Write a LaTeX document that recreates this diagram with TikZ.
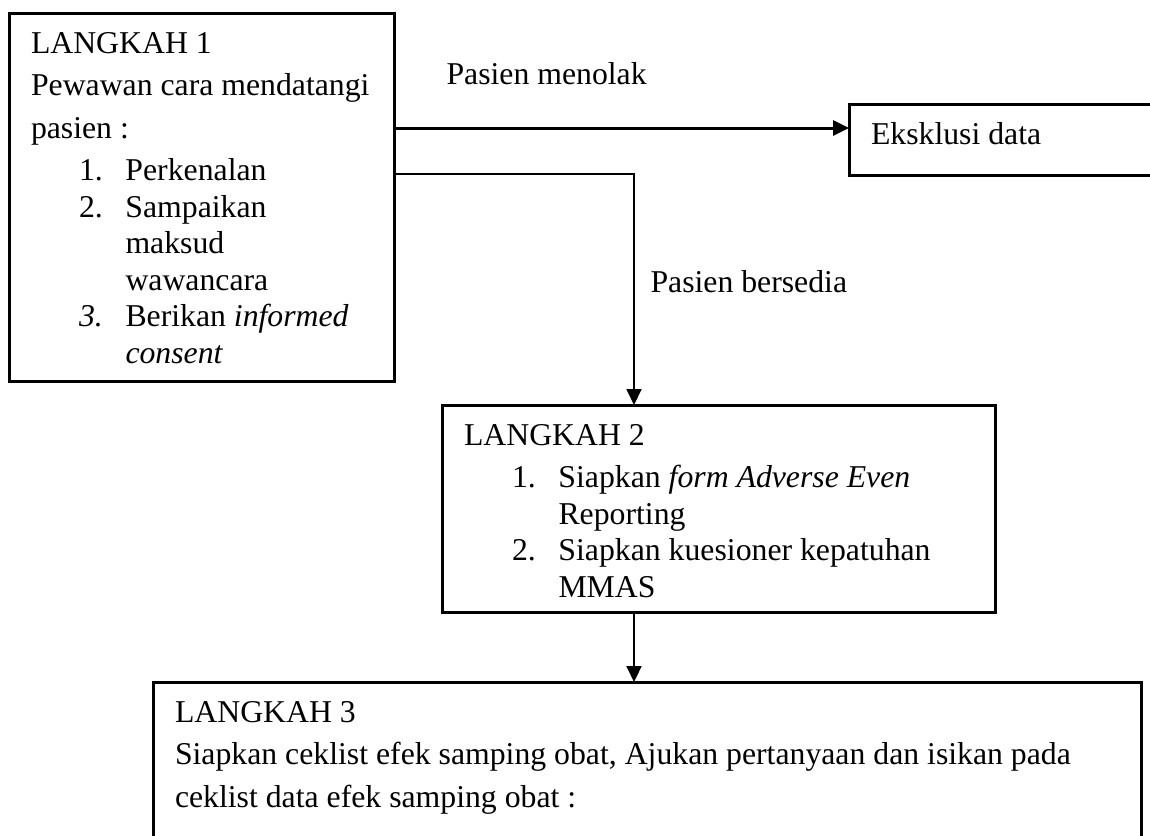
\documentclass[tikz,border=0pt]{standalone}
\usepackage{fontspec}
\setmainfont{Liberation Serif}
\usepackage{tikz}
\usetikzlibrary{arrows.meta}
\usetikzlibrary{positioning}

\newcommand{\stepnum}[1]{\hspace*{19.2pt}\makebox[18.6pt][l]{#1}}
\newcommand{\boxtext}[3]{\parbox[c][#2][t]{#1}{\raggedright\leftskip=8.8pt\rule{0pt}{16pt}#3}}

\begin{document}
\begin{tikzpicture}[
  x=0.4pt, y=-0.4pt,
  every node/.style={font=\fontsize{12.7}{14.6}\selectfont},
  stepbox/.style={draw, line width=1.2pt, inner sep=0pt, outer sep=0pt, anchor=north west},
  branchlabel/.style={inner sep=0pt, anchor=base west},
  tip/.style={-{Triangle[length=6.4pt, width=6pt]}}
]
\useasboundingbox (0,0) rectangle (1150,835);

\node[stepbox] (step1) at (9,13) {\boxtext{154pt}{147.2pt}{LANGKAH 1\\[2.4pt]
  Pewawan cara mendatangi\\[2.4pt]
  pasien :\\[2.4pt]
  \stepnum{1.}Perkenalan\\
  \stepnum{2.}Sampaikan\\
  \stepnum{}maksud\\
  \stepnum{}wawancara\\
  \stepnum{\textit{3.}}Berikan \textit{informed}\\
  \stepnum{}\textit{consent}}};
\node[stepbox] (exclude) at (849,104) {\boxtext{140.4pt}{28.4pt}{Eksklusi data}};
\node[stepbox] (step2) at (442,405) {\boxtext{221.2pt}{82.8pt}{LANGKAH 2\\[2.4pt]
  \stepnum{1.}Siapkan \textit{form Adverse Even}\\
  \stepnum{}Reporting\\
  \stepnum{2.}Siapkan kuesioner kepatuhan\\
  \stepnum{}MMAS}};
\node[stepbox] (step3) at (153,682) {\boxtext{395.2pt}{96pt}{LANGKAH 3\\[2.4pt]
  Siapkan ceklist efek samping obat, Ajukan pertanyaan dan isikan pada\\[2.4pt]
  ceklist data efek samping obat :}};

\node[branchlabel] (refuse) at (446,84) {Pasien menolak};
\node[branchlabel] (accept) at (650,292) {Pasien bersedia};

\coordinate (refuseout) at ([yshift=-46pt]step1.north east);
\coordinate (acceptout) at ([yshift=-64.4pt]step1.north east);
\coordinate (acceptin) at ([xshift=76.8pt]step2.north west);
\coordinate (step2out) at ([xshift=76.8pt]step2.south west);

\draw[tip, line width=1.2pt] (refuseout) -- (refuseout -| exclude.west);
\draw[tip, line width=0.7pt] (acceptout) -| (acceptin);
\draw[tip, line width=0.8pt] (step2out) -- (step2out |- step3.north);
\end{tikzpicture}
\end{document}
